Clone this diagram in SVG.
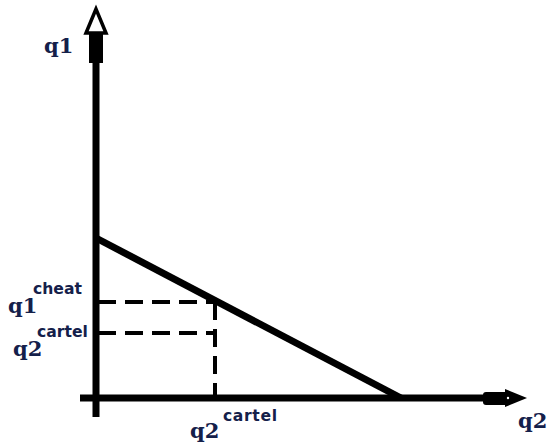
<svg xmlns="http://www.w3.org/2000/svg" width="548" height="445" viewBox="0 0 548 445">
<style>
.ax{stroke:#000;stroke-width:7;fill:none}
.dash{stroke:#000;stroke-width:4;fill:none;stroke-dasharray:18,9}
.lbl{font-weight:bold;fill:#14204a}
.big{font-family:"DejaVu Serif",serif;font-size:21px}
.sm{font-family:"DejaVu Sans",sans-serif;font-size:15.6px}
</style>
<rect width="548" height="445" fill="#fff"/>
<g id="connectors">
<line class="ax" x1="96" y1="417" x2="96" y2="60"/>
<rect x="89" y="33" width="14" height="30" fill="#000"/>
<polygon points="96,9 86,33 106,33" fill="#fff" stroke="#000" stroke-width="3.5" stroke-linejoin="miter"/>
<line class="ax" x1="80" y1="398" x2="486" y2="398"/>
<rect x="483" y="392" width="25" height="13" rx="3" fill="#000"/>
<polygon points="505,389 527,398 505,407" fill="#000"/>
<circle cx="508" cy="398" r="1.2" fill="#fff"/>
<line stroke="#000" stroke-width="7" x1="96" y1="238" x2="401" y2="398"/>
<line class="dash" x1="98" y1="302" x2="215" y2="302"/>
<line class="dash" x1="98" y1="333" x2="215" y2="333"/>
<line class="dash" x1="215" y1="302" x2="215" y2="398"/>
</g>
<g id="label-q1-axis"><text class="lbl big" x="44" y="53">q1</text></g>
<g id="label-q1-cheat"><text class="lbl big" x="8" y="313">q1</text><text class="lbl sm" x="33" y="294">cheat</text></g>
<g id="label-q2-cartel-left"><text class="lbl big" x="13" y="356">q2</text><text class="lbl sm" x="37" y="337">cartel</text></g>
<g id="label-q2-cartel-bottom"><text class="lbl big" x="190" y="438">q2</text><text class="lbl sm" x="223" y="421" textLength="54">cartel</text></g>
<g id="label-q2-axis"><text class="lbl big" x="518" y="428">q2</text></g>
</svg>
